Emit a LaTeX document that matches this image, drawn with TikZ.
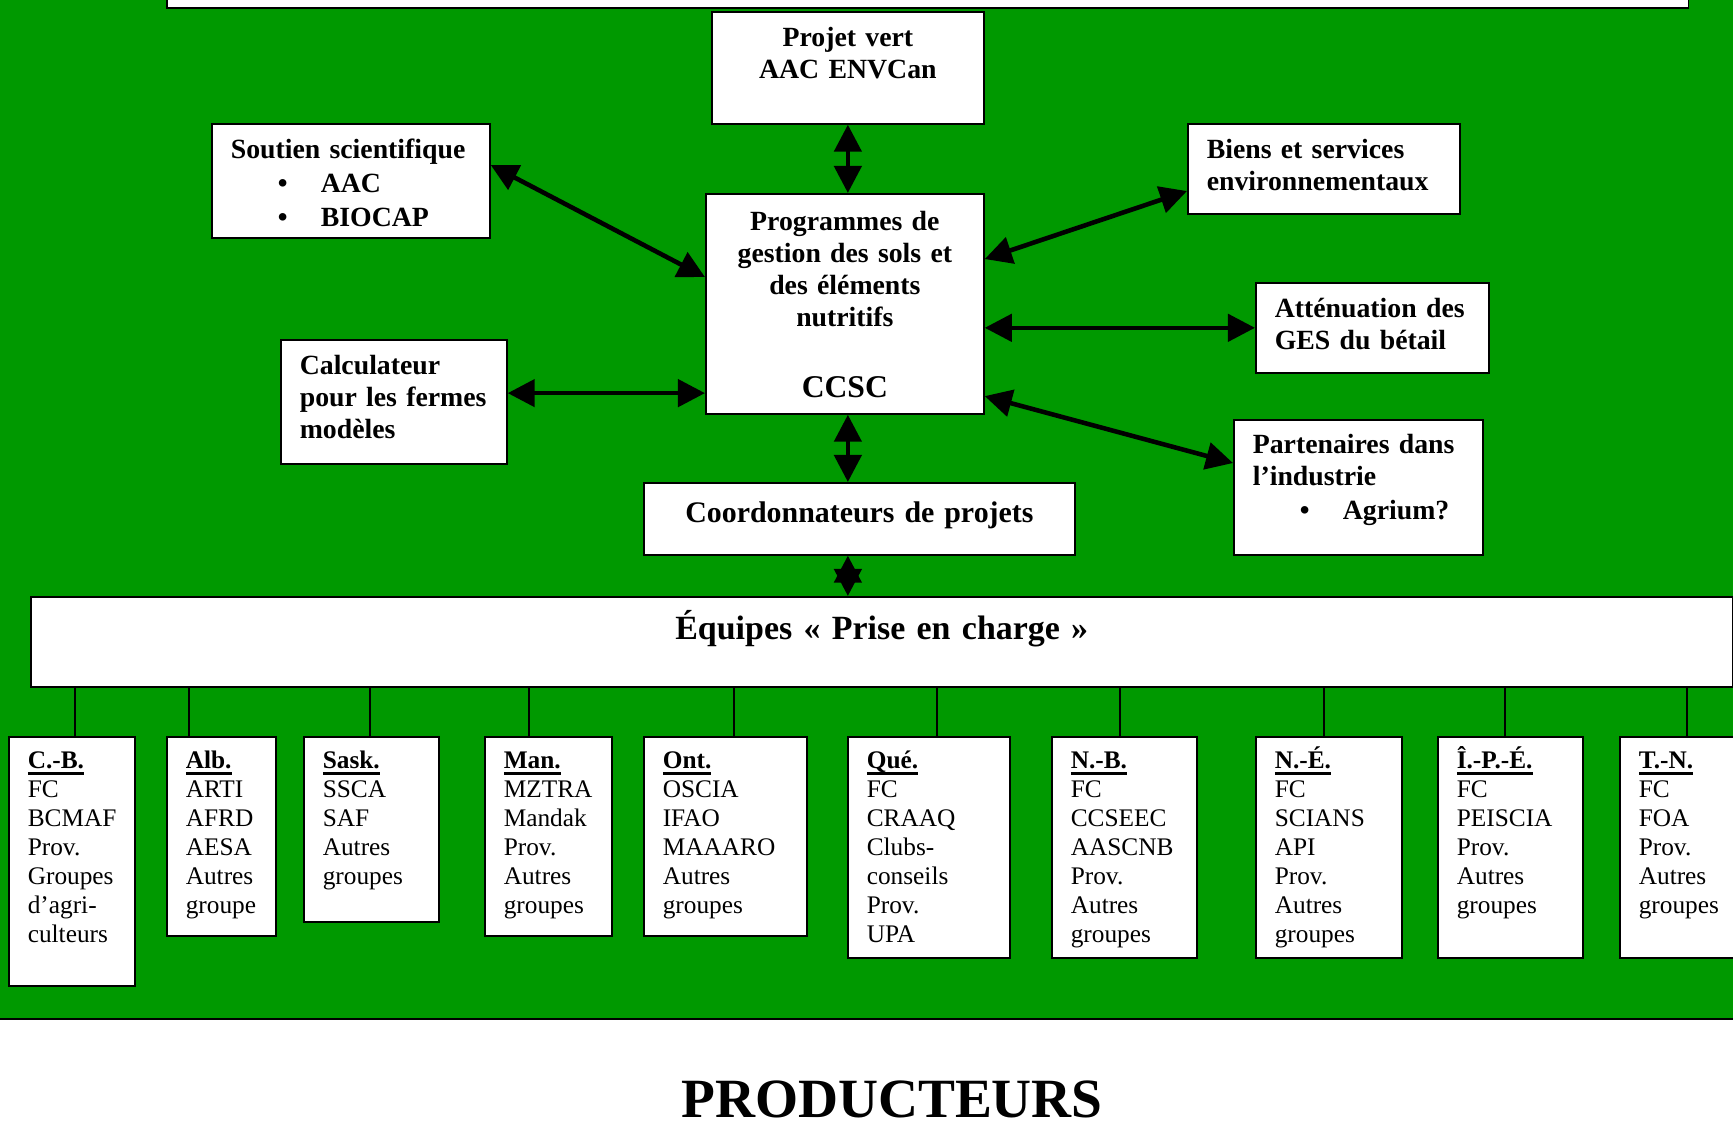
\documentclass[tikz,border=0pt]{standalone}
\usepackage{fontspec}
\setmainfont{Liberation Serif}
\usepackage{xcolor}
\usetikzlibrary{arrows.meta}
\definecolor{vertfond}{RGB}{0,153,0}
\newcommand{\gras}{\fontsize{7.9}{9.1}\selectfont\bfseries\hyphenpenalty=10000\relax}
\newcommand{\maigre}{\fontsize{7.2}{8.25}\selectfont\hyphenpenalty=10000\relax}
\newcommand{\puce}{\hspace*{0.47cm}\makebox[0.43cm][l]{•}}
\newcommand{\souligne}[1]{\setbox0\hbox{\textbf{#1}}\rlap{\rule[-0.065cm]{\wd0}{0.03cm}}\box0}

\begin{document}
\begin{tikzpicture}[x=0.01cm, y=-0.01cm,
    box/.style={draw, fill=white, line width=0.45pt, anchor=north west,
                inner xsep=0.19cm, inner ysep=0pt, font=\gras, align=left},
    prov/.style={box, font=\maigre, text height=0.32cm},
    arr/.style={{Triangle[length=0.27cm,width=0.27cm]}-{Triangle[length=0.27cm,width=0.27cm]},
                line width=1.3pt},
    lien/.style={line width=0.6pt}
  ]
    \useasboundingbox (0,0) rectangle (1733,1136);
    \clip (0,0) rectangle (1733,1136);
    \fill[vertfond] (0,0) rectangle (1733,1019);
    \draw[lien] (0,1019) -- (1733,1019);

    \node[draw, fill=white, line width=0.45pt, anchor=south west, inner sep=0pt,
          minimum width=15.21cm, minimum height=0.4cm] (bandeau) at (166,9) {};
    \node[box, align=center, text width=2.34cm, text height=0.35cm, text depth=0.77cm]
      (projet) at (711,11) {Projet vert\\AAC ENVCan};
    \node[box, text width=2.40cm, text height=0.35cm, text depth=0.79cm]
      (soutien) at (211,123) {\mbox{Soutien scientifique}\\[0.5pt]\puce AAC\\[0.5pt]\puce BIOCAP};
    \node[box, align=center, text width=2.40cm, text height=0.37cm, text depth=1.83cm]
      (ccsc) at (705,193)
      {Programmes de\\\mbox{gestion des sols et}\\des éléments\\nutritifs\\[11pt]{\fontsize{9}{9.1}\selectfont CCSC}};
    \node[box, text width=2.34cm, text height=0.35cm, text depth=0.55cm]
      (biens) at (1187,123) {\mbox{Biens et services}\\environnementaux};
    \node[box, text width=1.95cm, text height=0.35cm, text depth=0.55cm]
      (attenuation) at (1255,282) {\mbox{Atténuation des}\\\mbox{GES du bétail}};
    \node[box, text width=1.88cm, text height=0.35cm, text depth=0.89cm]
      (calculateur) at (280,339) {Calculateur\\\mbox{pour les fermes}\\modèles};
    \node[box, text width=2.11cm, text height=0.34cm, text depth=1.01cm]
      (partenaires) at (1233,419) {\mbox{Partenaires dans}\\l’industrie\\[0.6pt]\puce Agrium?};
    \node[box, align=center, font=\fontsize{8.5}{10}\selectfont\bfseries,
          text width=3.93cm, text height=0.40cm, text depth=0.32cm]
      (coord) at (643,482) {Coordonnateurs de projets};
    \node[box, align=center, font=\fontsize{9.65}{12}\selectfont\bfseries,
          text width=16.63cm, text height=0.43cm, text depth=0.47cm]
      (equipes) at (30,596) {Équipes «~Prise en charge~»};

    \node[prov, text width=0.88cm, text depth=2.17cm] (cb) at (8,736)
      {\souligne{C.-B.}\\FC\\BCMAF\\Prov.\\Groupes\\d’agri-\\culteurs};
    \node[prov, text width=0.71cm, text depth=1.67cm] (alb) at (166,736)
      {\souligne{Alb.}\\ARTI\\AFRD\\AESA\\Autres\\groupe};
    \node[prov, text width=0.97cm, text depth=1.53cm] (sask) at (303,736)
      {\souligne{Sask.}\\SSCA\\SAF\\Autres\\groupes};
    \node[prov, text width=0.89cm, text depth=1.67cm] (man) at (484,736)
      {\souligne{Man.}\\MZTRA\\Mandak\\Prov.\\Autres\\groupes};
    \node[prov, text width=1.25cm, text depth=1.67cm] (ont) at (643,736)
      {\souligne{Ont.}\\OSCIA\\IFAO\\MAAARO\\Autres\\groupes};
    \node[prov, text width=1.24cm, text depth=1.89cm] (que) at (847,736)
      {\souligne{Qué.}\\FC\\CRAAQ\\Clubs-\\conseils\\Prov.\\UPA};
    \node[prov, text width=1.07cm, text depth=1.89cm] (nb) at (1051,736)
      {\souligne{N.-B.}\\FC\\CCSEEC\\AASCNB\\Prov.\\Autres\\groupes};
    \node[prov, text width=1.08cm, text depth=1.89cm] (ne) at (1255,736)
      {\souligne{N.-É.}\\FC\\SCIANS\\API\\Prov.\\Autres\\groupes};
    \node[prov, text width=1.07cm, text depth=1.89cm] (ipe) at (1437,736)
      {\souligne{Î.-P.-É.}\\FC\\PEISCIA\\Prov.\\Autres\\groupes};
    \node[prov, text width=1.07cm, text depth=1.89cm] (tn) at (1619,736)
      {\souligne{T.-N.}\\FC\\FOA\\Prov.\\Autres\\groupes};

    \node[font=\fontsize{15.75}{19}\selectfont\bfseries, anchor=base, inner sep=0pt]
      (producteurs) at (892,1117) {PRODUCTEURS};

    \coordinate (calcfin) at ([yshift=-2cm]ccsc.north west);
    \draw[arr] (projet.south)--(projet.south |- ccsc.north);
    \draw[arr] ([yshift=-0.42cm]soutien.north east)--([yshift=-0.84cm]ccsc.north west);
    \draw[arr] ([yshift=-0.66cm]ccsc.north east)--([yshift=-0.68cm]biens.north west);
    \draw[arr] (attenuation.west -| ccsc.east)--(attenuation.west);
    \draw[arr] (calcfin -| calculateur.east)--(calcfin);
    \draw[arr] ([yshift=-2.03cm]ccsc.north east)--([yshift=-0.44cm]partenaires.north west);
    \draw[arr] (ccsc.south -| projet.south)--(coord.north -| projet.south);
    \draw[arr] (coord.south -| projet.south)--(equipes.north -| projet.south);

    \foreach \nom/\dx in {cb/67, alb/23, sask/67, man/45, ont/91,
                          que/90, nb/69, ne/69, ipe/68, tn/68}
      \draw[lien] (\nom.north west) ++(\dx,0) coordinate (haut) -- (haut |- equipes.south);
\end{tikzpicture}
\end{document}
